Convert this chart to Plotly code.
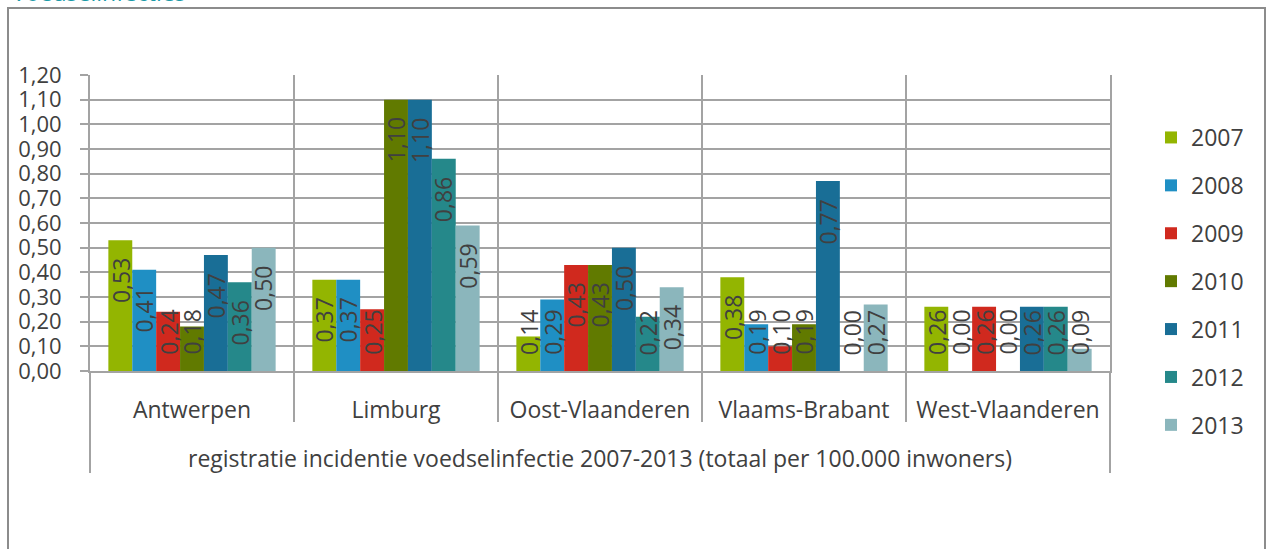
import plotly.graph_objects as go

parent = "registratie incidentie voedselinfectie 2007-2013 (totaal per 100.000 inwoners)"
regions = ["Antwerpen", "Limburg", "Oost-Vlaanderen", "Vlaams-Brabant", "West-Vlaanderen"]
years = ["2007", "2008", "2009", "2010", "2011", "2012", "2013"]
chart_title = "Voedselinfecties"

# values per year, one per region (in region order)
v2007 = [0.53, 0.37, 0.14, 0.38, 0.26]
v2008 = [0.41, 0.37, 0.29, 0.19, 0.00]
v2009 = [0.24, 0.25, 0.43, 0.10, 0.26]
v2010 = [0.18, 1.10, 0.43, 0.19, 0.00]
v2011 = [0.47, 1.10, 0.50, 0.77, 0.26]
v2012 = [0.36, 0.86, 0.22, 0.00, 0.26]
v2013 = [0.50, 0.59, 0.34, 0.27, 0.09]
series = [v2007, v2008, v2009, v2010, v2011, v2012, v2013]

colors = ["#93b501", "#1f8fc4", "#d0291e", "#617a00", "#196e96", "#25888a", "#8bb6bc"]

yticks = [round(i * 0.1, 1) for i in range(13)]

FONT = "Open Sans, Noto Sans, sans-serif"
TXT = "#404040"
GRID = "#a3a3a3"
FS = 23
FS_Y = 22

# plot area in pixels
L, R, T, B = 90, 1110, 75, 371
PW, PH = R - L, B - T

BARGAP = 0.18
n = len(years)

fig = go.Figure()
for j, (yr, vals, col) in enumerate(zip(years, series, colors)):
    fig.add_trace(go.Bar(
        name=yr,
        x=regions,
        y=vals,
        marker=dict(color=col, line=dict(width=0)),
        legendgroup=yr,
    ))

annotations = []
grp = 1 - BARGAP
for j, vals in enumerate(series):
    for i, v in enumerate(vals):
        xc = i - grp / 2 + (j + 0.5) * grp / n
        ytop = max(v - 0.065, 0.255)
        annotations.append(dict(
            x=xc, y=ytop, xref="x", yref="y",
            text=f"{v:.2f}".replace(".", ","),
            textangle=-90, showarrow=False,
            xanchor="center", yanchor="top",
            font=dict(family=FONT, size=FS, color=TXT),
        ))

# parent category label (second level of category axis)
annotations.append(dict(
    x=0.5, y=-87 / PH, xref="paper", yref="paper",
    text=parent, showarrow=False, xanchor="center", yanchor="middle",
    font=dict(family=FONT, size=FS, color=TXT),
))

# cut-off title at very top
annotations.append(dict(
    x=(10 - L) / PW, y=(B - 10) / PH, xref="paper", yref="paper",
    text=chart_title, showarrow=False, xanchor="left", yanchor="bottom",
    font=dict(family=FONT, size=FS, color="#1a9aa8"),
))

shapes = [dict(type="rect", xref="paper", yref="paper",
               x0=(8 - L) / PW, x1=(1265 - L) / PW,
               y0=(B - 600) / PH, y1=(B - 8) / PH,
               line=dict(color="#8c8c8c", width=2), layer="below")]
# inner category dividers
for i in range(len(regions) - 1):
    shapes.append(dict(type="line", xref="x", yref="paper",
                       x0=i + 0.5, x1=i + 0.5, y0=0, y1=-51 / PH,
                       line=dict(color=GRID, width=2)))
# outer (parent) dividers
for xp in (0, 1):
    shapes.append(dict(type="line", xref="paper", yref="paper",
                       x0=xp, x1=xp, y0=0, y1=-102 / PH,
                       line=dict(color=GRID, width=2)))

fig.update_layout(
    width=1266, height=549,
    margin=dict(l=L, r=1266 - R, t=T, b=549 - B),
    paper_bgcolor="white", plot_bgcolor="white",
    separators=",.",
    barmode="group", bargap=BARGAP, bargroupgap=0,
    font=dict(family=FONT, size=FS, color=TXT),
    showlegend=True,
    legend=dict(x=(1151 - L) / PW, xanchor="left", y=(B - 281.5) / PH, yanchor="middle",
                font=dict(family=FONT, size=FS, color=TXT),
                tracegroupgap=15, itemwidth=30, maxheight=520),
    annotations=annotations,
    shapes=shapes,
)

fig.update_yaxes(
    range=[0, 1.2], tickvals=yticks, tickformat=".2f",
    showgrid=True, gridcolor=GRID, gridwidth=2,
    showline=True, linecolor=GRID, linewidth=2, mirror=True,
    ticks="outside", ticklen=8, tickcolor=GRID, tickwidth=2,
    zeroline=False, ticklabelstandoff=14,
    tickfont=dict(family=FONT, size=FS_Y, color=TXT),
)
fig.update_xaxes(
    type="category",
    showline=True, linecolor=GRID, linewidth=2,
    showgrid=True, gridcolor=GRID, gridwidth=2,
    tickson="boundaries", ticks="", ticklabelstandoff=17,
    tickfont=dict(family=FONT, size=FS, color=TXT),
)

fig.write_html("out.html", config={"displayModeBar": False},
               post_script="document.body.style.margin='0px';")
